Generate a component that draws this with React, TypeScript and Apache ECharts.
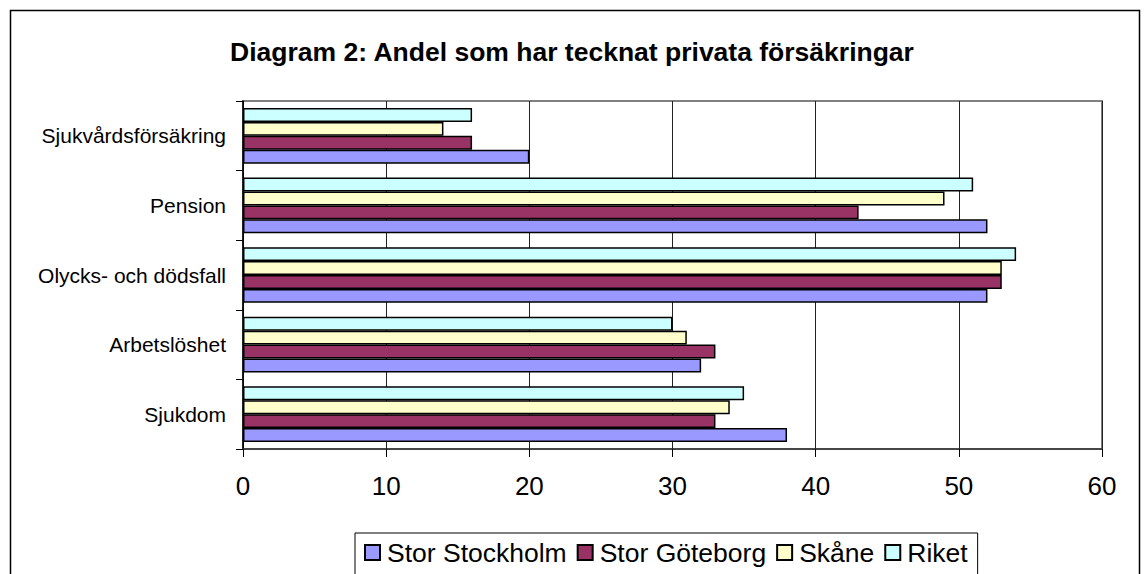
import React, { useEffect, useRef } from "react";
import * as echarts from "echarts";

const categories = ["Sjukdom", "Arbetslöshet", "Olycks- och dödsfall", "Pension", "Sjukvårdsförsäkring"];
const seriesNames = ["Stor Stockholm", "Stor Göteborg", "Skåne", "Riket"];
const stockholm = [38, 32, 52, 52, 20];
const goteborg = [33, 33, 53, 43, 16];
const skane = [34, 31, 53, 49, 14];
const riket = [35, 30, 54, 51, 16];
const colors = ["#9999FF", "#993366", "#FFFFCC", "#CCFFFF"];
const xTicks = [0, 10, 20, 30, 40, 50, 60];

const FONT = "Liberation Sans, Arial, sans-serif";

export default function App() {
  const ref = useRef<HTMLDivElement>(null);
  useEffect(() => {
    if (!ref.current) return;
    const chart = echarts.init(ref.current, undefined, { renderer: "svg" });
    const values = [stockholm, goteborg, skane, riket];
    const series = [3, 2, 1, 0].map((i) => ({
      name: seriesNames[i],
      type: "bar",
      data: values[i],
      barGap: "0%",
      barCategoryGap: "20%",
      itemStyle: { color: colors[i], borderColor: "#000", borderWidth: 1.5 },
    }));
    chart.setOption({
      animation: false,
      backgroundColor: "#fff",
      textStyle: { fontFamily: FONT },
      title: {
        text: "Diagram 2: Andel som har tecknat privata försäkringar",
        left: "center",
        top: 33,
        textStyle: { fontSize: 26.5, fontWeight: "bold", color: "#000", fontFamily: FONT },
      },
      graphic: [
        {
          type: "rect",
          shape: { x: 10.5, y: 10.5, width: 1129, height: 620 },
          style: { fill: "none", stroke: "#000", lineWidth: 1.5 },
          silent: true,
          z: -1,
        },
      ],
      legend: {
        data: seriesNames,
        left: 355,
        top: 533,
        padding: [6, 10, 9, 9],
        itemGap: 10,
        itemWidth: 15,
        itemHeight: 15,
        icon: "rect",
        borderColor: "#000",
        borderWidth: 1,
        backgroundColor: "#fff",
        textStyle: { fontSize: 26.5, color: "#000", fontFamily: FONT, padding: [0, 0, 0, 2] },
      },
      grid: {
        left: 243,
        right: 42,
        top: 101,
        bottom: 125,
        show: true,
        borderColor: "#808080",
        borderWidth: 2,
        containLabel: false,
      },
      xAxis: {
        type: "value",
        min: 0,
        max: 60,
        interval: 10,
        axisLine: { show: true, lineStyle: { color: "#333", width: 1.5 } },
        axisTick: { show: true, length: 8, lineStyle: { color: "#000" } },
        axisLabel: {
          fontSize: 26,
          color: "#000",
          margin: 24,
          formatter: (v: number) => (xTicks.includes(v) ? String(v) : ""),
        },
        splitLine: { show: true, lineStyle: { color: "#222", width: 1 } },
      },
      yAxis: {
        type: "category",
        data: categories,
        axisLine: { show: true, lineStyle: { color: "#000", width: 1.5 } },
        axisTick: { show: true, length: 7, lineStyle: { color: "#000" } },
        axisLabel: { fontSize: 21, color: "#000", margin: 17 },
        splitLine: { show: false },
      },
      series,
    });
    return () => chart.dispose();
  }, []);
  return (
    <div
      ref={ref}
      style={{ position: "fixed", left: 0, top: 0, width: 1144, height: 574 }}
    />
  );
}
